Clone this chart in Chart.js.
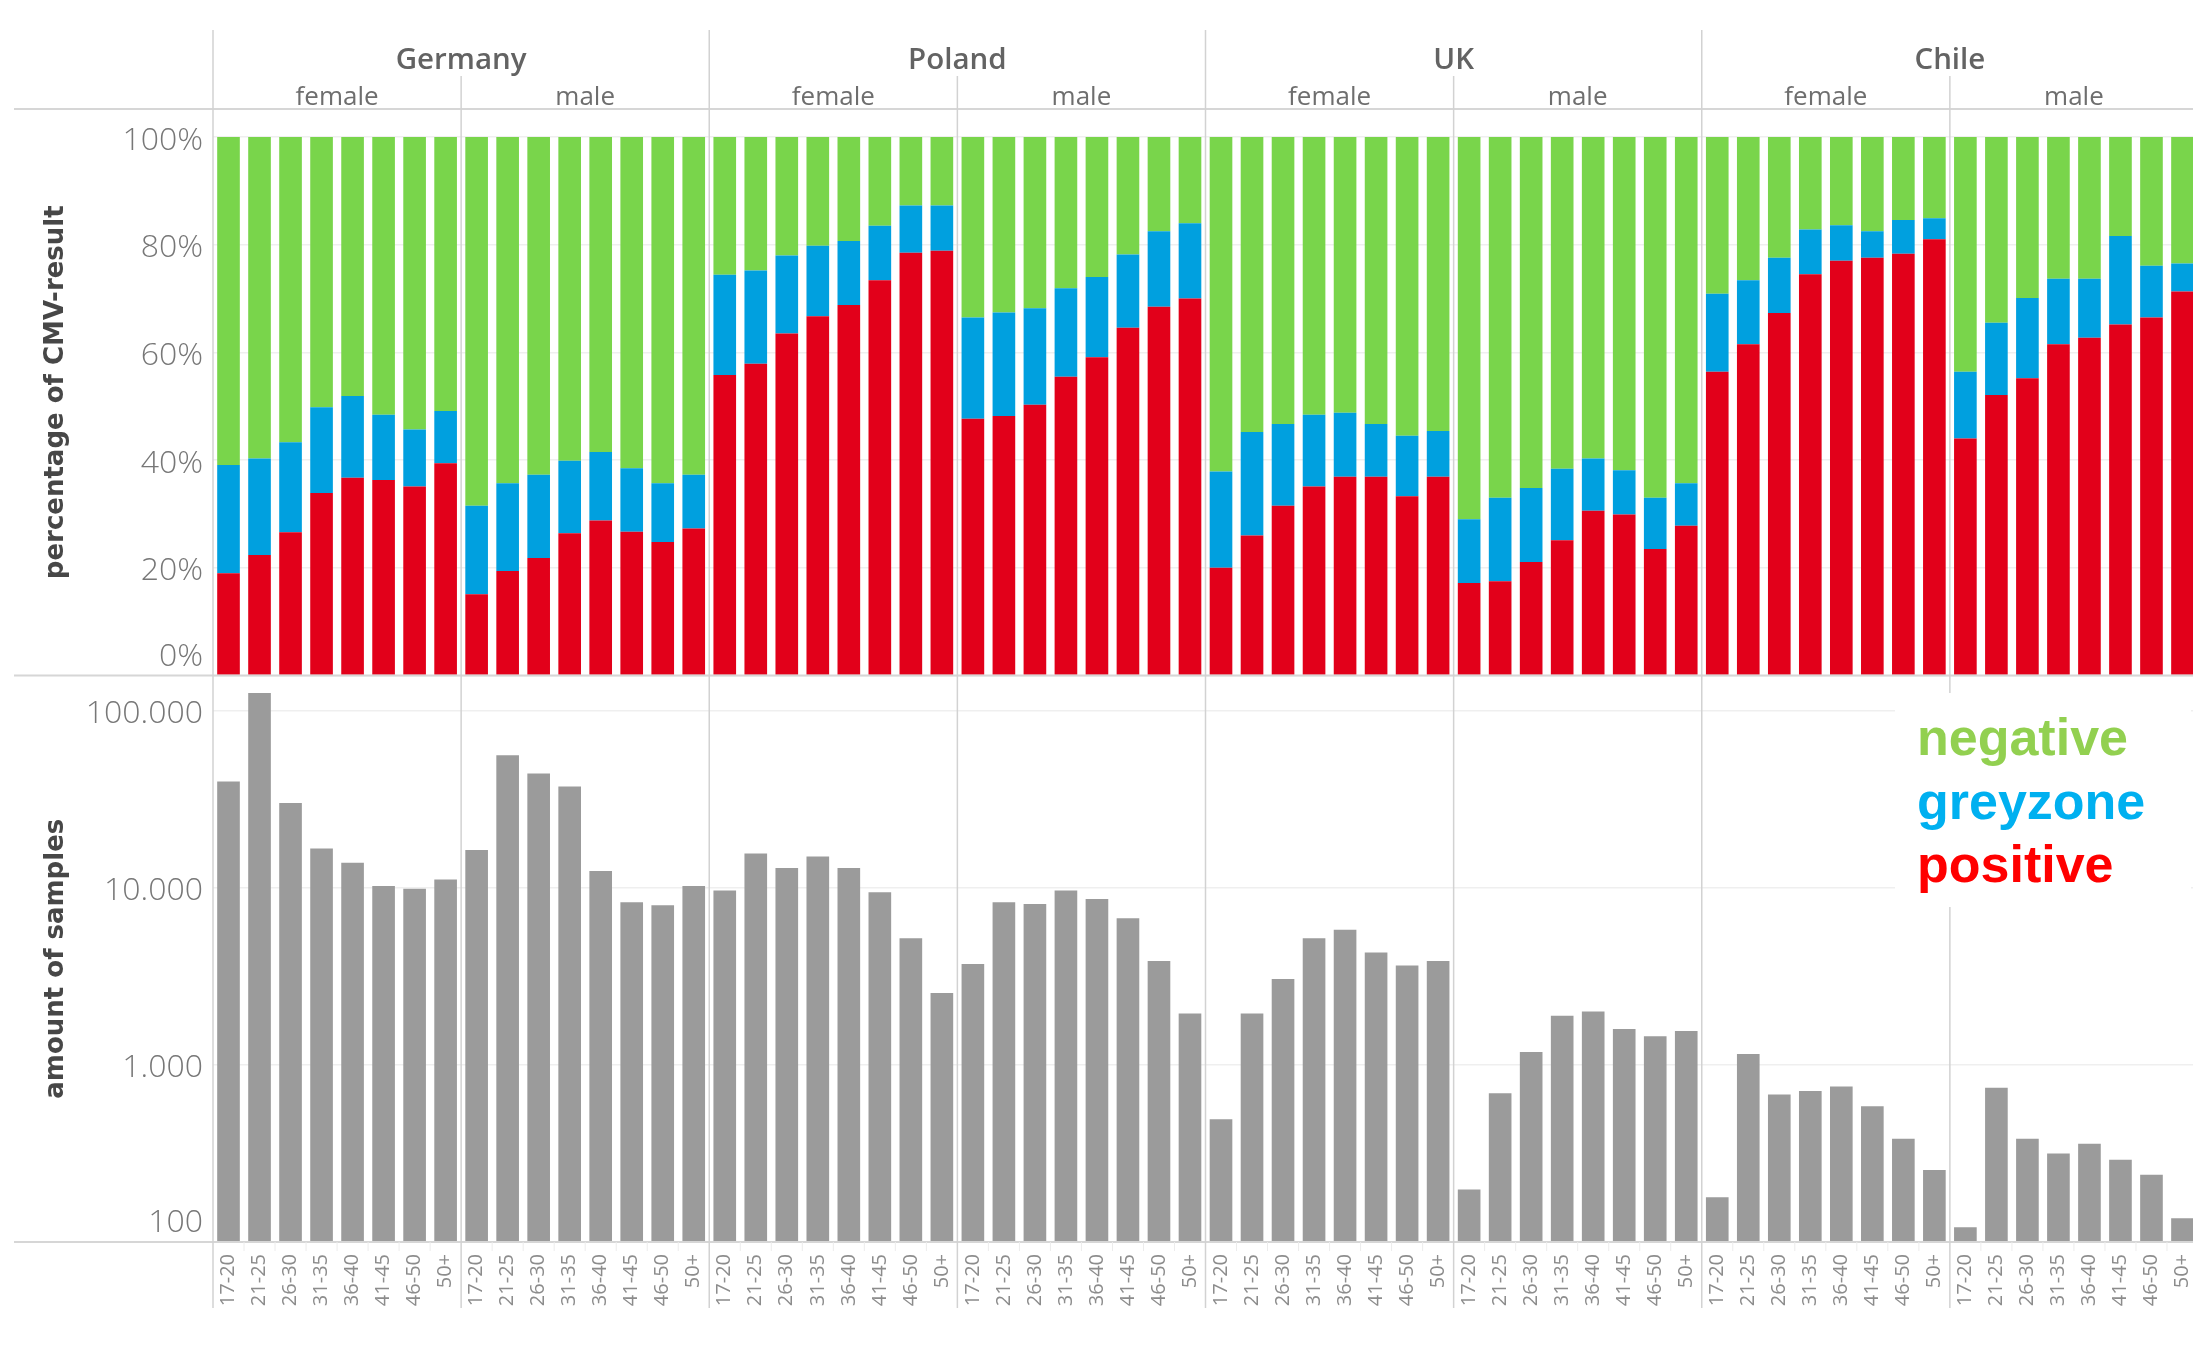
<!DOCTYPE html>
<html>
<head>
<meta charset="utf-8">
<title>CMV result by country, sex and age</title>
<script src="https://cdn.jsdelivr.net/npm/chart.js@4.4.0/dist/chart.umd.min.js"></script>
<style>
  html, body { margin: 0; padding: 0; background: #fff; overflow: hidden; }
  #wrap { width: 2200px; height: 1361px; }
</style>
</head>
<body>
<div id="wrap"><canvas id="chart" width="2200" height="1361"></canvas></div>
<script>
// Kategorien
const countries = ["Germany", "Poland", "UK", "Chile"];
const sexes = ["female", "male"];
const ageGroups = ["17-20", "21-25", "26-30", "31-35", "36-40", "41-45", "46-50", "50+"];

// Anteile in % (je Land: female 8 Werte, male 8 Werte)
const positive = [
  19.0, 22.4, 26.6, 33.9, 36.7, 36.3, 35.1, 39.4,   15.1, 19.4, 21.8, 26.4, 28.8, 26.7, 24.8, 27.3, // Germany
  55.8, 57.9, 63.5, 66.7, 68.8, 73.4, 78.5, 78.9,   47.7, 48.2, 50.3, 55.5, 59.1, 64.6, 68.5, 70.0, // Poland
  20.0, 26.0, 31.5, 35.1, 36.9, 36.9, 33.3, 36.9,   17.2, 17.5, 21.1, 25.1, 30.6, 29.9, 23.5, 27.8, // UK
  56.4, 61.5, 67.3, 74.5, 77.0, 77.6, 78.3, 81.0,   44.0, 52.1, 55.2, 61.5, 62.7, 65.2, 66.5, 71.3  // Chile
];
const greyzone = [
  20.1, 17.9, 16.7, 15.9, 15.2, 12.1, 10.6, 9.7,    16.4, 16.3, 15.5, 13.5, 12.7, 11.8, 10.9, 10.0,
  18.6, 17.3, 14.5, 13.1, 11.9, 10.1, 8.8, 8.4,     18.8, 19.2, 17.9, 16.4, 14.9, 13.6, 14.0, 14.0,
  17.9, 19.2, 15.2, 13.3, 11.9, 9.8, 11.2, 8.5,     11.8, 15.5, 13.7, 13.3, 9.7, 8.2, 9.5, 7.9,
  14.5, 11.9, 10.3, 8.3, 6.6, 4.9, 6.3, 3.9,        12.4, 13.4, 14.9, 12.2, 11.0, 16.4, 9.6, 5.2
];
const negative = [
  60.9, 59.7, 56.7, 50.2, 48.1, 51.6, 54.3, 50.9,   68.5, 64.3, 62.7, 60.1, 58.5, 61.5, 64.3, 62.7,
  25.6, 24.8, 22.0, 20.2, 19.3, 16.5, 12.7, 12.7,   33.5, 32.6, 31.8, 28.1, 26.0, 21.8, 17.5, 16.0,
  62.1, 54.8, 53.3, 51.6, 51.2, 53.3, 55.5, 54.6,   71.0, 67.0, 65.2, 61.6, 59.7, 61.9, 67.0, 64.3,
  29.1, 26.6, 22.4, 17.2, 16.4, 17.5, 15.4, 15.1,   43.6, 34.5, 29.9, 26.3, 26.3, 18.4, 23.9, 23.5
];

// Anzahl Proben
const samples = [
  39700, 125400, 30000, 16600, 13800, 10200, 9860, 11100,   16300, 55900, 44100, 37200, 12400, 8280, 7960, 10200,
  9640, 15600, 12900, 15000, 12900, 9420, 5180, 2540,       3700, 8280, 8090, 9640, 8630, 6720, 3850, 1950,
  493, 1950, 3050, 5180, 5780, 4300, 3630, 3850,            198, 690, 1180, 1890, 2000, 1590, 1450, 1550,
  179, 1150, 679, 711, 754, 584, 382, 255,                  121, 741, 382, 316, 359, 291, 240, 136
];

const legendLabels = ["negative", "greyzone", "positive"];

const labels = [];
countries.forEach(() => sexes.forEach(() => ageGroups.forEach((a) => labels.push(a))));

function formatDots(v) {
  return String(Math.round(v)).replace(/\B(?=(\d{3})+(?!\d))/g, ".");
}

function line(ctx, x1, y1, x2, y2) {
  ctx.beginPath();
  ctx.moveTo(x1, y1);
  ctx.lineTo(x2, y2);
  ctx.stroke();
}

// Kopfzeilen, Trennlinien, Achsenbeschriftung, Legende
const decor = {
  id: "decor",
  afterDraw(chart) {
    const { ctx, chartArea, scales } = chart;
    const xs = scales.x;
    const yP = scales.yPct;
    const yC = scales.yCount;
    const W = chart.width;
    const n = labels.length;
    const half = (xs.getPixelForValue(1) - xs.getPixelForValue(0)) / 2;
    const edge = (k) => (k < n ? xs.getPixelForValue(k) - half : xs.getPixelForValue(n - 1) + half);
    const per = ageGroups.length;

    ctx.save();

    // horizontale Linien
    ctx.strokeStyle = "#d6d6d6";
    ctx.lineWidth = 2;
    [chartArea.top, yP.bottom, chartArea.bottom].forEach((y) => line(ctx, 14, y, W, y));

    // kurze Striche zwischen den Balken unter der Achse
    ctx.strokeStyle = "#ececec";
    ctx.lineWidth = 1;
    for (let k = 1; k < n; k++) {
      if (k % per === 0) continue;
      const px = edge(k);
      line(ctx, px, chartArea.bottom, px, chartArea.bottom + 9);
    }

    // vertikale Trennlinien
    ctx.strokeStyle = "#d2d2d2";
    ctx.lineWidth = 1.5;
    for (let k = 0; k <= countries.length * sexes.length; k++) {
      const px = edge(k * per);
      const top = k % sexes.length === 0 ? 30 : 76;
      line(ctx, px, top, px, 1308);
    }

    // Kopf: Länder und Geschlecht
    ctx.textAlign = "center";
    ctx.textBaseline = "alphabetic";
    countries.forEach((c, ci) => {
      const a = edge(ci * per * sexes.length);
      const b = edge((ci + 1) * per * sexes.length);
      ctx.fillStyle = "#636363";
      ctx.font = "600 29.5px 'Open Sans'";
      ctx.fillText(c, (a + b) / 2, 69);
      sexes.forEach((s, si) => {
        const sa = edge((ci * sexes.length + si) * per);
        const sb = edge((ci * sexes.length + si + 1) * per);
        ctx.fillStyle = "#6e6e6e";
        ctx.font = "26px 'Open Sans'";
        ctx.fillText(s, (sa + sb) / 2, 105);
      });
    });

    // y-Achsen Beschriftungen
    ctx.textAlign = "right";
    ctx.textBaseline = "middle";
    ctx.fillStyle = "#777";
    ctx.font = "300 32px 'Open Sans'";
    yP.ticks.forEach((t) => {
      const y = Math.min(yP.getPixelForValue(t.value) + 3.5, yP.bottom - 19);
      ctx.fillText(t.value + "%", 203, y);
    });
    yC.ticks.forEach((t) => {
      const lg = Math.log10(t.value);
      if (Math.abs(lg - Math.round(lg)) > 1e-9) return;
      const y = Math.min(yC.getPixelForValue(t.value) + 3.5, yC.bottom - 19);
      ctx.fillText(formatDots(t.value), 203, y);
    });

    // Achsentitel
    ctx.fillStyle = "#474747";
    ctx.font = "bold 26px 'DejaVu Sans'";
    ctx.textAlign = "center";
    [[yP, "percentage of CMV-result"], [yC, "amount of samples"]].forEach(([s, txt]) => {
      ctx.save();
      ctx.translate(56, (s.top + s.bottom) / 2);
      ctx.rotate(-Math.PI / 2);
      ctx.fillText(txt, 0, 0);
      ctx.restore();
    });

    // Legende
    ctx.fillStyle = "#fff";
    ctx.fillRect(1895, 693, 296, 214);
    ctx.textAlign = "left";
    ctx.textBaseline = "alphabetic";
    ctx.font = "bold 52px 'Liberation Sans'";
    const legendColors = ["#92d050", "#00b0f0", "#ff0000"];
    legendLabels.forEach((l, i) => {
      ctx.fillStyle = legendColors[i];
      ctx.fillText(l, 1917, 755 + i * 63.5);
    });

    ctx.restore();
  }
};

const barOpts = { grouped: false, categoryPercentage: 1, barPercentage: 0.73, borderWidth: 0 };

const ctx = document.getElementById("chart").getContext("2d");
const chart = new Chart(ctx, {
  type: "bar",
  data: {
    labels: labels,
    datasets: [
      { label: "positive", data: positive, backgroundColor: "#e2001a", yAxisID: "yPct", ...barOpts },
      { label: "greyzone", data: greyzone, backgroundColor: "#00a0df", yAxisID: "yPct", ...barOpts },
      { label: "negative", data: negative, backgroundColor: "#79d54b", yAxisID: "yPct", ...barOpts },
      { label: "samples", data: samples, backgroundColor: "#9b9b9b", yAxisID: "yCount", ...barOpts }
    ]
  },
  options: {
    responsive: false,
    animation: false,
    layout: { padding: { top: 109, left: 0, right: 2, bottom: 0 } },
    plugins: { legend: { display: false }, tooltip: { enabled: false } },
    scales: {
      x: {
        type: "category",
        offset: true,
        grid: { display: false, drawTicks: false },
        border: { display: false },
        ticks: {
          autoSkip: false,
          minRotation: 90,
          maxRotation: 90,
          padding: 12,
          color: "#8c8c8c",
          font: { family: "Open Sans", size: 20 }
        },
        afterFit: (s) => {
          s.height = 119;
          s.paddingLeft = 0;
          s.paddingRight = 0;
        }
      },
      yPct: {
        type: "linear",
        position: "left",
        stack: "panels",
        stackWeight: 1,
        weight: 2,
        stacked: true,
        min: 0,
        max: 105.2,
        ticks: { display: false, stepSize: 20, includeBounds: false },
        grid: { color: "#efefef", lineWidth: 1.5, drawTicks: false },
        border: { display: false },
        afterFit: (s) => { s.width = 213; }
      },
      yCount: {
        type: "logarithmic",
        position: "left",
        stack: "panels",
        stackWeight: 1,
        weight: 1,
        min: 100,
        max: 157400,
        ticks: { display: false },
        grid: {
          drawTicks: false,
          lineWidth: 1.5,
          color: (c) => {
            const v = c.tick && c.tick.value;
            if (!v) return "rgba(0,0,0,0)";
            const lg = Math.log10(v);
            return Math.abs(lg - Math.round(lg)) < 1e-9 ? "#efefef" : "rgba(0,0,0,0)";
          }
        },
        border: { display: false },
        afterFit: (s) => { s.width = 213; }
      }
    }
  },
  plugins: [decor]
});
</script>
</body>
</html>
